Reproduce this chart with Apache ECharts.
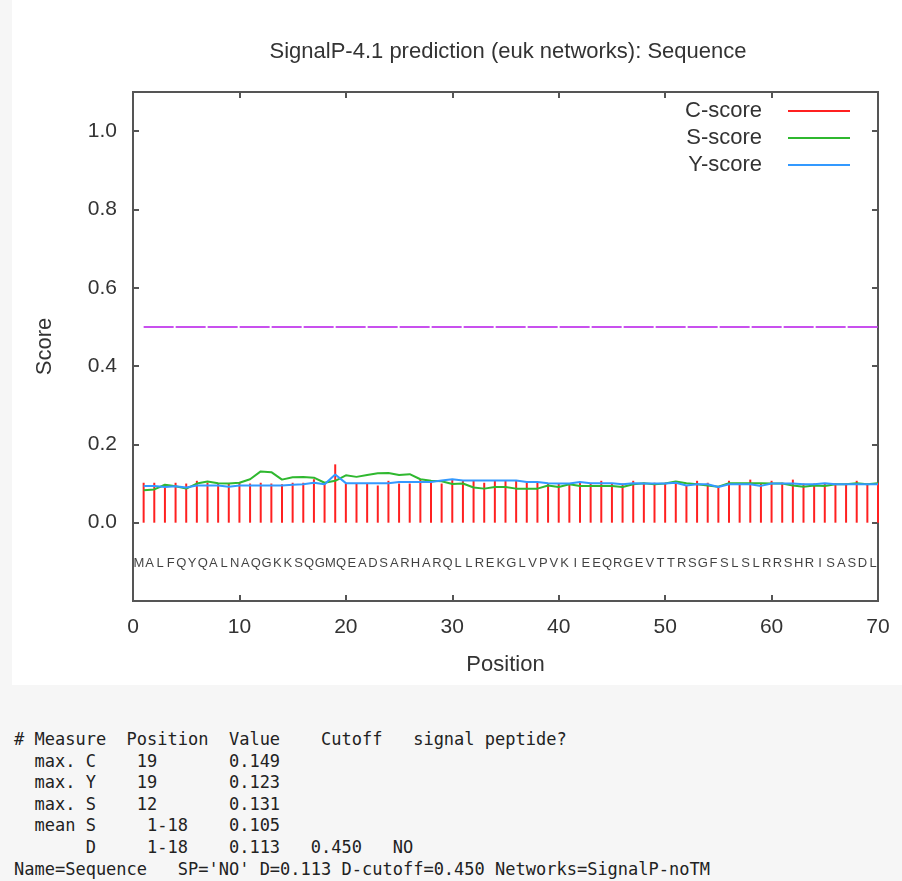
<!DOCTYPE html>
<html>
<head>
<meta charset="utf-8">
<script src="https://cdn.jsdelivr.net/npm/echarts@6/dist/echarts.min.js"></script>
<style>
  body { margin: 0; background: #f6f6f6; width: 902px; height: 881px; position: relative; overflow: hidden; }
  #chart { position: absolute; left: 12px; top: 0; width: 890px; height: 685px; background: #fff; }
  #report {
    position: absolute; left: 14px; top: 729px; margin: 0;
    font-family: "DejaVu Sans Mono", monospace; font-size: 17px; line-height: 21.6px; color: #222;
  }
</style>
</head>
<body>
<div id="chart"></div>
<pre id="report"></pre>
<script>
// sequence residues, one per position
const sequence = 'MALFQYQALNAQGKKSQGMQEADSARHARQLLREKGLVPVKIEEQRGEVTTRSGFSLSLRRSHRISASDL'.split('');

// C-score (impulses)
const cScore = [0.102, 0.102, 0.098, 0.102, 0.100, 0.107, 0.102, 0.100, 0.100, 0.102,
                0.100, 0.102, 0.100, 0.098, 0.102, 0.102, 0.111, 0.100, 0.149, 0.100,
                0.100, 0.100, 0.095, 0.107, 0.100, 0.100, 0.110, 0.102, 0.100, 0.111,
                0.107, 0.107, 0.102, 0.107, 0.107, 0.107, 0.102, 0.102, 0.100, 0.100,
                0.100, 0.104, 0.100, 0.107, 0.100, 0.100, 0.107, 0.102, 0.102, 0.102,
                0.102, 0.094, 0.107, 0.102, 0.094, 0.107, 0.100, 0.110, 0.100, 0.107,
                0.102, 0.110, 0.100, 0.100, 0.100, 0.100, 0.100, 0.107, 0.100, 0.102];

// S-score
const sScore = [0.083, 0.085, 0.097, 0.093, 0.087, 0.100, 0.105, 0.101, 0.100, 0.102,
                0.111, 0.131, 0.129, 0.110, 0.116, 0.117, 0.115, 0.102, 0.107, 0.121,
                0.117, 0.122, 0.126, 0.127, 0.122, 0.124, 0.111, 0.107, 0.106, 0.099,
                0.100, 0.090, 0.087, 0.091, 0.091, 0.087, 0.087, 0.087, 0.095, 0.091,
                0.098, 0.094, 0.094, 0.094, 0.094, 0.091, 0.098, 0.101, 0.098, 0.100,
                0.105, 0.101, 0.098, 0.095, 0.092, 0.101, 0.101, 0.101, 0.101, 0.100,
                0.100, 0.095, 0.092, 0.095, 0.094, 0.098, 0.098, 0.101, 0.098, 0.101];

// Y-score
const yScore = [0.094, 0.094, 0.091, 0.093, 0.090, 0.095, 0.095, 0.095, 0.092, 0.095,
                0.095, 0.095, 0.095, 0.095, 0.097, 0.098, 0.102, 0.098, 0.123, 0.101,
                0.101, 0.101, 0.101, 0.101, 0.104, 0.104, 0.104, 0.104, 0.108, 0.111,
                0.108, 0.108, 0.108, 0.108, 0.108, 0.108, 0.104, 0.104, 0.101, 0.100,
                0.100, 0.104, 0.101, 0.101, 0.101, 0.098, 0.101, 0.100, 0.100, 0.100,
                0.102, 0.095, 0.098, 0.098, 0.091, 0.098, 0.098, 0.098, 0.094, 0.100,
                0.100, 0.100, 0.098, 0.098, 0.101, 0.098, 0.098, 0.098, 0.098, 0.098];

// D cutoff line
const cutoffX = [1, 70];
const cutoffValue = 0.5;
const seqRowValue = -0.105;

const reportLines = [
  "# Measure  Position  Value    Cutoff   signal peptide?",
  "  max. C    19       0.149",
  "  max. Y    19       0.123",
  "  max. S    12       0.131",
  "  mean S     1-18    0.105",
  "       D     1-18    0.113   0.450   NO",
  "Name=Sequence   SP='NO' D=0.113 D-cutoff=0.450 Networks=SignalP-noTM"
];
document.getElementById('report').textContent = reportLines.join('\n');

const pos = sequence.map((_, i) => i + 1);
const font = 'Liberation Sans';

// inward ticks on all four sides, like gnuplot
const tick = { inside: true, length: 6, lineStyle: { color: '#555', width: 2 } };

let myChart = echarts.init(document.getElementById('chart'));

let option = {
    animation: false,
    title: {
        text: 'SignalP-4.1 prediction (euk networks): Sequence',
        left: 491,
        top: 36,
        textAlign: 'center',
        textStyle: { color: '#333', fontSize: 22, fontWeight: 'normal', fontFamily: font }
    },
    legend: {
        orient: 'vertical',
        right: 47,
        top: 95,
        align: 'right',
        icon: 'rect',
        itemWidth: 62,
        itemHeight: 2,
        itemGap: 5,
        formatter: '{a|{name}}',
        textStyle: {
            color: '#333', fontSize: 22, fontFamily: font,
            rich: { a: { width: 80, align: 'right', padding: [0, 21, 0, 0], fontSize: 22, fontFamily: font, color: '#333' } }
        },
        data: ['C-score', 'S-score', 'Y-score']
    },
    grid: { left: 121, right: 24, top: 92, bottom: 84, show: true, borderColor: '#555', borderWidth: 2 },
    xAxis: [
        {
            type: 'value', min: 0, max: 70, interval: 10,
            name: 'Position', nameLocation: 'middle', nameGap: 53,
            nameTextStyle: { color: '#333', fontSize: 22, fontFamily: font },
            axisLine: { show: false, onZero: false },
            axisTick: tick,
            axisLabel: { color: '#333', fontSize: 21, fontFamily: font, margin: 16 },
            splitLine: { show: false }
        },
        {
            type: 'value', min: 0, max: 70, interval: 10, position: 'top',
            axisLine: { show: false, onZero: false },
            axisTick: tick,
            axisLabel: { show: false },
            splitLine: { show: false }
        }
    ],
    yAxis: [
        {
            type: 'value', min: -0.2, max: 1.1, interval: 0.2,
            name: 'Score', nameLocation: 'middle', nameGap: 77, nameRotate: 90,
            nameTextStyle: { color: '#333', fontSize: 22, fontFamily: font },
            axisLine: { show: false, onZero: false },
            axisTick: tick,
            axisLabel: {
                color: '#333', fontSize: 21, fontFamily: font, margin: 16,
                showMinLabel: false, showMaxLabel: false,
                formatter: v => v < 0 ? '' : v.toFixed(1)
            },
            splitLine: { show: false }
        },
        {
            type: 'value', min: -0.2, max: 1.1, interval: 0.2, position: 'right',
            axisLine: { show: false, onZero: false },
            axisTick: tick,
            axisLabel: { show: false },
            splitLine: { show: false }
        }
    ],
    series: [
        {
            name: 'C-score',
            type: 'bar',
            barWidth: 2,
            itemStyle: { color: '#ff2020' },
            data: cScore.map((v, i) => [pos[i], v])
        },
        {
            name: 'S-score',
            type: 'line',
            showSymbol: false,
            color: '#2fb82f',
            lineStyle: { width: 2, color: '#2fb82f' },
            data: sScore.map((v, i) => [pos[i], v])
        },
        {
            name: 'Y-score',
            type: 'line',
            showSymbol: false,
            color: '#3399ff',
            lineStyle: { width: 2, color: '#3399ff' },
            data: yScore.map((v, i) => [pos[i], v])
        },
        {
            name: 'cutoff',
            type: 'line',
            showSymbol: false,
            silent: true,
            lineStyle: { width: 2, color: '#c850ee', type: [30, 2] },
            data: cutoffX.map(x => [x, cutoffValue])
        },
        {
            name: 'sequence',
            type: 'scatter',
            symbolSize: 0,
            silent: true,
            label: {
                show: true, position: 'inside', color: '#111', fontSize: 13, fontFamily: font,
                formatter: p => sequence[p.dataIndex]
            },
            data: pos.map(p => [p - 0.45, seqRowValue])
        }
    ]
};

myChart.setOption(option);
</script>
</body>
</html>
